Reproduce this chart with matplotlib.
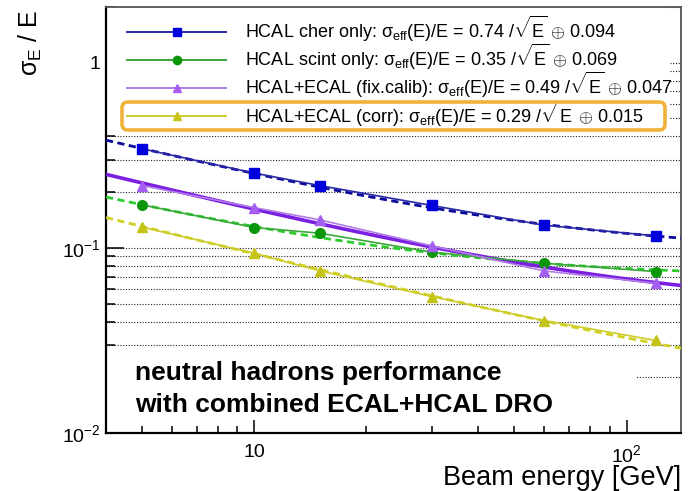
import numpy as np
import matplotlib
matplotlib.use("Agg")
import matplotlib.pyplot as plt
from matplotlib.lines import Line2D
from matplotlib.patches import FancyBboxPatch, Rectangle
from matplotlib.ticker import LogLocator, NullFormatter, FixedLocator, FixedFormatter

plt.rcParams['font.family'] = ['Liberation Sans', 'DejaVu Sans']
plt.rcParams['mathtext.fontset'] = 'custom'
plt.rcParams['mathtext.rm'] = 'Liberation Sans'
plt.rcParams['mathtext.it'] = 'Liberation Sans:italic'
plt.rcParams['mathtext.bf'] = 'Liberation Sans:bold'

# Beam energies [GeV]
energy = [5, 10, 15, 30, 60, 120]

# Measured relative resolution sigma_E / E
res_cher = [0.343, 0.2535, 0.217, 0.1694, 0.1326, 0.116]
res_scint = [0.1708, 0.1288, 0.120, 0.0948, 0.0826, 0.0744]
res_fix = [0.217, 0.165, 0.1417, 0.1025, 0.0751, 0.0644]
res_corr = [0.1294, 0.0936, 0.0751, 0.0546, 0.0405, 0.0316]

# Fit parameters: stochastic term a, constant term b
fit_cher = (0.74, 0.094)
fit_scint = (0.35, 0.069)
fit_fix = (0.49, 0.047)
fit_corr = (0.29, 0.015)

series_names = [
    "HCAL cher only",
    "HCAL scint only",
    "HCAL+ECAL (fix.calib)",
    "HCAL+ECAL (corr)",
]

x_ticks = [10, 100]
x_ticklabels = ["10", "$10^{2}$"]
y_ticks = [0.01, 0.1, 1]
y_ticklabels = ["$10^{-2}$", "$10^{-1}$", "1"]

W, H = 692, 491
fig = plt.figure(figsize=(W / 100, H / 100), dpi=100)
ax = fig.add_axes([106 / W, 1 - 433 / H, (681 - 106) / W, (433 - 7) / H])
ax.set_xscale("log")
ax.set_yscale("log")
ax.set_xlim(4, 140)
ax.set_ylim(0.01, 2.0)

e_fine = np.geomspace(4, 140, 300)


def resolution(e, a, b):
    return np.sqrt(a ** 2 / e + b ** 2)


styles = [
    dict(res=res_cher, fit=fit_cher, marker="s", ms=7, mcol="#0000dd",
         lcol="#2a2aa8", fcol="#0a0a9a", fls=(0, (2.6, 1.6)), flw=2.0),
    dict(res=res_scint, fit=fit_scint, marker="o", ms=7, mcol="#0c960c",
         lcol="#3aa83a", fcol="#2ecc2e", fls=(0, (2.6, 1.6)), flw=2.0),
    dict(res=res_fix, fit=fit_fix, marker="^", ms=7, mcol="#a45ef0",
         lcol="#b27ce8", fcol="#7b1fe0", fls="-", flw=2.6),
    dict(res=res_corr, fit=fit_corr, marker="^", ms=7, mcol="#c4c418",
         lcol="#cccc2a", fcol="#d0d020", fls=(0, (2.6, 1.6)), flw=2.0),
]

handles = []
for name, st in zip(series_names, styles):
    a, b = st["fit"]
    ax.plot(e_fine, resolution(e_fine, a, b), color=st["fcol"],
            linestyle=st["fls"], lw=st["flw"], zorder=3)
    ax.plot(energy, st["res"], color=st["lcol"], lw=1.2, zorder=4)
    ax.plot(energy, st["res"], linestyle="none", marker=st["marker"],
            ms=st["ms"], color=st["mcol"], markeredgecolor=st["mcol"], zorder=5)
    label = (name + r": σ$_{\rm eff}$(E)/E = " + f"{a:.2f}"
             + r" /$\sqrt{\rm E}$ $\oplus$ " + f"{b:.3f}".rstrip("0"))
    handles.append(Line2D([0], [0], color=st["lcol"], lw=1.4,
                          marker=st["marker"], ms=6, markerfacecolor=st["mcol"],
                          markeredgecolor=st["mcol"], label=label))

# Axis ticks
ax.xaxis.set_major_locator(FixedLocator(x_ticks))
ax.xaxis.set_major_formatter(FixedFormatter(x_ticklabels))
ax.xaxis.set_minor_locator(LogLocator(base=10, subs=np.arange(2, 10)))
ax.xaxis.set_minor_formatter(NullFormatter())
ax.yaxis.set_major_locator(FixedLocator(y_ticks))
ax.yaxis.set_major_formatter(FixedFormatter(y_ticklabels))
ax.yaxis.set_minor_locator(LogLocator(base=10, subs=np.arange(2, 10)))
ax.yaxis.set_minor_formatter(NullFormatter())

ax.tick_params(axis="y", which="major", direction="in", length=13, width=1.1,
               labelsize=14, pad=4, left=True, right=False)
ax.tick_params(axis="y", which="minor", direction="in", length=6.5, width=1.1,
               left=True, right=False)
ax.tick_params(axis="x", which="major", direction="in", length=9.5, width=1.1,
               labelsize=14, pad=8, bottom=True, top=False)
ax.tick_params(axis="x", which="minor", direction="in", length=5, width=1.1,
               bottom=True, top=False)

ax.yaxis.grid(True, which="both", linestyle=(0, (1, 1.5)), color="#222222",
              lw=0.8, zorder=0)
ax.set_axisbelow(True)

for side in ("left", "bottom"):
    ax.spines[side].set_linewidth(1.6)
    ax.spines[side].set_color("black")
for side in ("top", "right"):
    ax.spines[side].set_linewidth(1.3)
    ax.spines[side].set_color("#555555")

ax.set_xlabel("Beam energy [GeV]", fontsize=19.5, ha="right", va="center")
ax.xaxis.set_label_coords(1.0, -0.106)
ax.set_ylabel(r"σ$_{\rm E}$ / E", fontsize=18, va="center", ha="center")
ax.yaxis.set_label_coords(-0.132, 0.915)

# White panel behind the legend, hiding the grid only
ax.add_patch(Rectangle((0.0, 0.704), 0.98, 0.296, transform=ax.transAxes,
                       facecolor="white", edgecolor="none", zorder=1))
leg = ax.legend(handles=handles, loc="upper left",
                bbox_to_anchor=(0.0365, 0.984),
                fontsize=13, frameon=False, handlelength=5.5,
                handletextpad=1.05, labelspacing=-0.1, borderpad=0.0,
                borderaxespad=0.0, numpoints=1)
leg.set_zorder(6)

# White panel behind the caption, hiding the grid only
ax.add_patch(Rectangle((0.0, 0.03), 0.922, 0.16, transform=ax.transAxes,
                       facecolor="white", edgecolor="none", zorder=1))
ax.text(0.05, 0.103, "neutral hadrons performance\nwith combined ECAL+HCAL DRO",
        transform=ax.transAxes, fontsize=19, fontweight="bold", ha="left",
        va="center", linespacing=1.45, zorder=2)

hl = FancyBboxPatch((1.22, (H - 130) / 100), 5.43, 0.28,
                    boxstyle="round,pad=0,rounding_size=0.06",
                    transform=fig.dpi_scale_trans, facecolor="none",
                    edgecolor="#f0b23a", lw=2.6, zorder=10)
fig.patches.append(hl)

fig.savefig("out.png", dpi=100)
